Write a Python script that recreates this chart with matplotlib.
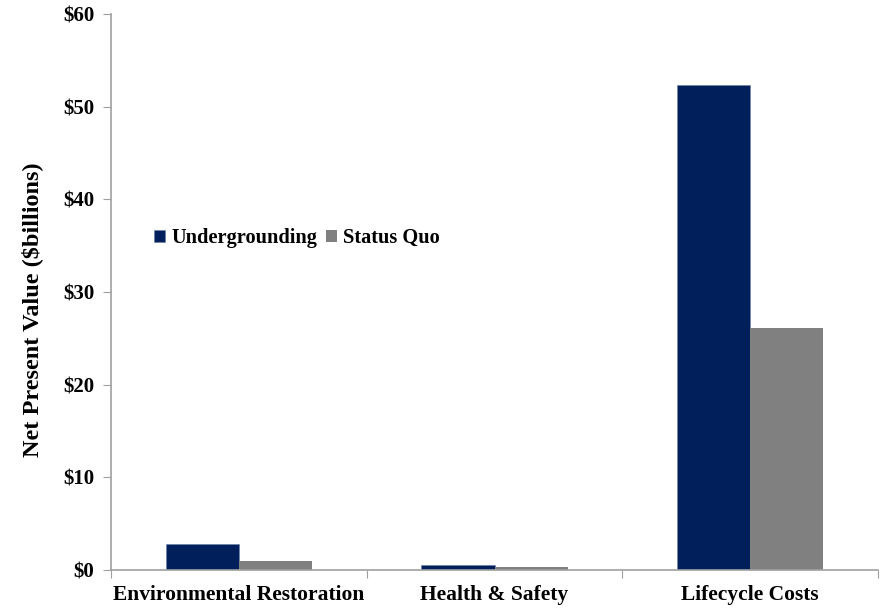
import matplotlib
matplotlib.use("Agg")
import matplotlib.pyplot as plt
import numpy as np

categories = ["Environmental Restoration", "Health & Safety", "Lifecycle Costs"]
series_names = ["Undergrounding", "Status Quo"]
undergrounding = [2.8, 0.5, 52.3]
status_quo = [1.0, 0.3, 26.1]
yticks = [0, 10, 20, 30, 40, 50, 60]
ytick_labels = ["$0", "$10", "$20", "$30", "$40", "$50", "$60"]

plt.rcParams['font.family'] = ['Liberation Serif', 'DejaVu Serif']
plt.rcParams['font.weight'] = 'bold'

fig = plt.figure(figsize=(8.89, 6.10), dpi=100)
ax = fig.add_axes([111/889, 1 - 570/610, (878-111)/889, (570-14)/610])

x = np.arange(len(categories))
w = 0.286
navy = "#001F5B"
gray = "#808080"
ax.bar(x - w/2, undergrounding, w, color=navy, label=series_names[0], edgecolor="#6a7fa8", linewidth=0.4)
ax.bar(x + w/2, status_quo, w, color=gray, label=series_names[1], linewidth=0)

ax.set_xlim(-0.5, len(categories) - 0.5)
ax.set_ylim(0, 60)
ax.set_yticks(yticks)
ax.set_yticklabels(ytick_labels, fontsize=15, fontweight='bold')
ax.set_xticks(np.arange(len(categories) + 1) - 0.5)
ax.set_xticklabels([])
ax.set_xticks(x, minor=True)
ax.set_xticklabels(categories, minor=True, fontsize=15.5, fontweight='bold')
ax.tick_params(axis='x', which='minor', length=0, pad=11)
ax.tick_params(axis='x', which='major', length=6, color="#A0A0A0", direction='out')
ax.tick_params(axis='y', length=6, color="#A0A0A0", direction='out', pad=6)

for s in ['top', 'right']:
    ax.spines[s].set_visible(False)
for s in ['left', 'bottom']:
    ax.spines[s].set_color("#A0A0A0")
    ax.spines[s].set_linewidth(1.2)

ax.set_ylabel("Net Present Value ($billions)", fontsize=17.5, fontweight='bold')
ax.yaxis.set_label_coords(-0.089, 0.469)

leg = ax.legend(loc='upper left', bbox_to_anchor=(0.045, 0.63), frameon=False, ncol=2,
                handlelength=0.55, handleheight=0.55, handletextpad=0.3,
                columnspacing=0.45, borderaxespad=0, prop={'weight': 'bold', 'size': 14.7})

fig.savefig("out.png", dpi=100)
